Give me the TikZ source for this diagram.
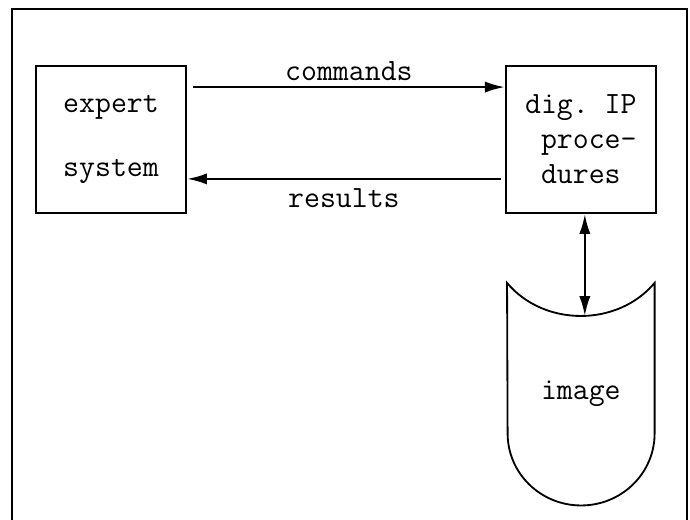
\documentclass[tikz,border=0pt]{standalone}
\usepackage{tikz}
\usetikzlibrary{arrows.meta,positioning}

\begin{document}
\begin{tikzpicture}[node distance=1cm, auto]
    \tikzset{
      boxnode/.style={rectangle,draw=black,line width=1.3pt,minimum width=3.75cm,minimum height=3.675cm,font=\fontsize{22}{25}\selectfont\ttfamily},
      textlabel/.style={font=\fontsize{22}{25}\selectfont\ttfamily},
      arrow/.style={->,>={Latex[length=5mm,width=2.8mm]},line width=1.7pt}
    }
    \useasboundingbox (0,0) rectangle (17.25,13);
    \draw[line width=2pt] (0.3,0) |- (17.175,12.775) -- (17.175,0);

    \node[boxnode,align=center](expert) at (2.775,9.5125){expert\\[20pt]system};
    \node[boxnode,align=left,right=7.95cm of expert](digip){dig.~IP\\~proce-\\~dures};
    \node[textlabel,minimum width=3.675cm,minimum height=5.55cm,below=1.725cm of digip](image){image};
    \draw[line width=1.3pt](image.north west) to[out=-50,in=-130] (image.north east)
      -- ([yshift=1.8cm]image.south east) arc[start angle=0,end angle=-180,x radius=1.8375cm,y radius=1.8cm] -- cycle;

    \draw[arrow]([xshift=0.15cm,yshift=-0.55cm]expert.north east) -- node[textlabel,above,inner sep=4pt]{commands} ([yshift=-0.55cm]digip.north west);
    \draw[arrow]([xshift=-0.1cm,yshift=0.875cm]digip.south west) -- node[textlabel,below,inner sep=6pt]{results} ([yshift=0.875cm]expert.south east);
    \draw[arrow,<->]([xshift=0.1cm]digip.south) -- ([xshift=0.1cm,yshift=-0.83cm]image.north);

\end{tikzpicture}
\end{document}
